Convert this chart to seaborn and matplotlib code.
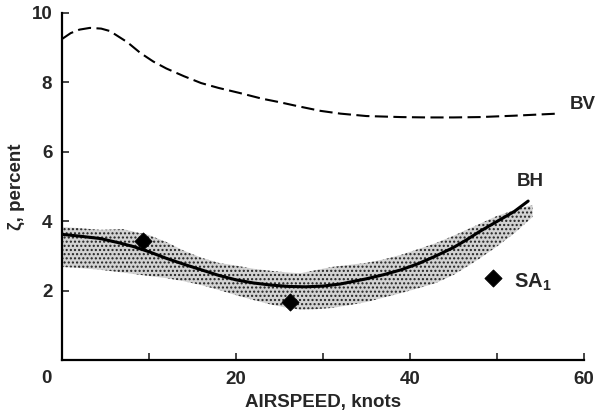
import matplotlib
matplotlib.use("Agg")
import matplotlib.pyplot as plt
import seaborn as sns
import pandas as pd

# Vertical bending (BV), dashed curve
bv_speed = [0, 1, 2, 3.2, 4.5, 5.5, 7.5, 9, 10.5, 12, 14, 16, 18, 20.5, 23,
            25, 27, 29.7, 32, 35, 39, 42, 45, 48, 52, 57]
bv_zeta = [9.25, 9.42, 9.52, 9.57, 9.55, 9.48, 9.16, 8.85, 8.6, 8.4, 8.18,
           7.98, 7.84, 7.69, 7.53, 7.43, 7.32, 7.18, 7.1, 7.03, 7.0, 6.99,
           6.99, 7.0, 7.04, 7.1]

# Horizontal bending (BH), solid curve
bh_speed = [0, 2, 4.4, 6.5, 8.2, 10, 12, 14, 16, 18, 20, 22, 24, 26, 28, 30,
            32, 35, 37, 39, 41, 43, 45, 46.5, 48, 50, 52, 53.6]
bh_zeta = [3.62, 3.57, 3.5, 3.38, 3.27, 3.12, 2.93, 2.76, 2.6, 2.44, 2.31,
           2.22, 2.16, 2.12, 2.11, 2.13, 2.19, 2.34, 2.46, 2.6, 2.78, 3.0,
           3.24, 3.46, 3.7, 3.99, 4.28, 4.58]

# Scatter band around BH
band_speed = [0, 2, 4.4, 7, 10, 12, 14, 16, 18, 20, 22, 24, 26, 27.4, 29, 31,
              33, 35, 37, 39, 41, 43, 45, 46.5, 48, 50, 52, 54.1]
band_upper = [3.83, 3.8, 3.75, 3.77, 3.6, 3.4, 3.15, 2.95, 2.8, 2.72, 2.63,
              2.57, 2.52, 2.5, 2.58, 2.68, 2.74, 2.8, 2.9, 3.03, 3.2, 3.37,
              3.58, 3.75, 3.92, 4.15, 4.32, 4.47]
band_lower = [2.68, 2.65, 2.6, 2.52, 2.42, 2.36, 2.27, 2.16, 2.02, 1.87, 1.73,
              1.6, 1.5, 1.45, 1.46, 1.5, 1.58, 1.67, 1.8, 1.93, 2.07, 2.22,
              2.45, 2.68, 2.92, 3.27, 3.65, 4.12]

# SA1 measurements
sa_speed = [9.3, 26.2, 49.5]
sa_zeta = [3.43, 1.67, 2.36]

x_ticks = [20, 40, 60]
y_ticks = [2, 4, 6, 8, 10]

sns.set_style("ticks")
plt.rcParams["font.family"] = ["Liberation Sans", "DejaVu Sans"]
plt.rcParams["font.weight"] = "bold"
plt.rcParams["mathtext.fontset"] = "custom"
plt.rcParams["mathtext.rm"] = "Liberation Sans:bold"
plt.rcParams["mathtext.bf"] = "Liberation Sans:bold"
plt.rcParams["hatch.linewidth"] = 1.0

FS = 13.5

fig = plt.figure(figsize=(6.05, 4.16), dpi=100)
ax = fig.add_axes([0.1025, 0.1346, 0.8625, 0.8342])

ax.fill_between(band_speed, band_lower, band_upper, facecolor="#d2d2d2",
                edgecolor="#222222", hatch="....", linewidth=0, zorder=1)

bv = pd.DataFrame({"speed": bv_speed, "zeta": bv_zeta})
bh = pd.DataFrame({"speed": bh_speed, "zeta": bh_zeta})
sa = pd.DataFrame({"speed": sa_speed, "zeta": sa_zeta})

sns.lineplot(data=bv, x="speed", y="zeta", ax=ax, color="black", lw=1.5,
             sort=False, zorder=3)
ax.lines[-1].set_dashes([6.3, 2.6])
sns.lineplot(data=bh, x="speed", y="zeta", ax=ax, color="black", lw=2.2,
             sort=False, zorder=3)
sns.scatterplot(data=sa, x="speed", y="zeta", ax=ax, marker="D", s=75,
                color="black", edgecolor="black", zorder=4)

ax.text(59.9, 7.35, "BV", ha="center", va="center", fontsize=FS, fontweight="bold")
ax.text(53.8, 5.13, "BH", ha="center", va="center", fontsize=FS, fontweight="bold")
ax.text(52.0, 2.25, r"SA$_{1}$", ha="left", va="center", fontsize=FS + 1,
        fontweight="bold")

ax.set_xlim(0, 60)
ax.set_ylim(0, 10)
ax.set_xticks(x_ticks)
ax.set_xticklabels([str(v) for v in x_ticks])
ax.set_xticks([10, 30, 50], minor=True)
ax.set_yticks(y_ticks)
ax.set_yticklabels([str(v) for v in y_ticks])
ax.tick_params(axis="both", which="both", direction="in", length=5, width=1.2,
               labelsize=FS)
ax.tick_params(axis="x", pad=8)
ax.tick_params(axis="y", pad=7)
for lab in ax.get_xticklabels() + ax.get_yticklabels():
    lab.set_fontweight("bold")
ax.annotate("0", xy=(0, 0), xytext=(-11, -13), textcoords="offset points",
            ha="center", va="center", fontsize=FS, fontweight="bold")

ax.set_xlabel("AIRSPEED, knots", fontsize=FS, fontweight="bold", labelpad=4)
ax.set_ylabel("ζ, percent", fontsize=FS, fontweight="bold", labelpad=5)

for side in ["top", "right"]:
    ax.spines[side].set_visible(False)
for side in ["left", "bottom"]:
    ax.spines[side].set_linewidth(1.6)
    ax.spines[side].set_color("black")

fig.savefig("out.png", dpi=100)
